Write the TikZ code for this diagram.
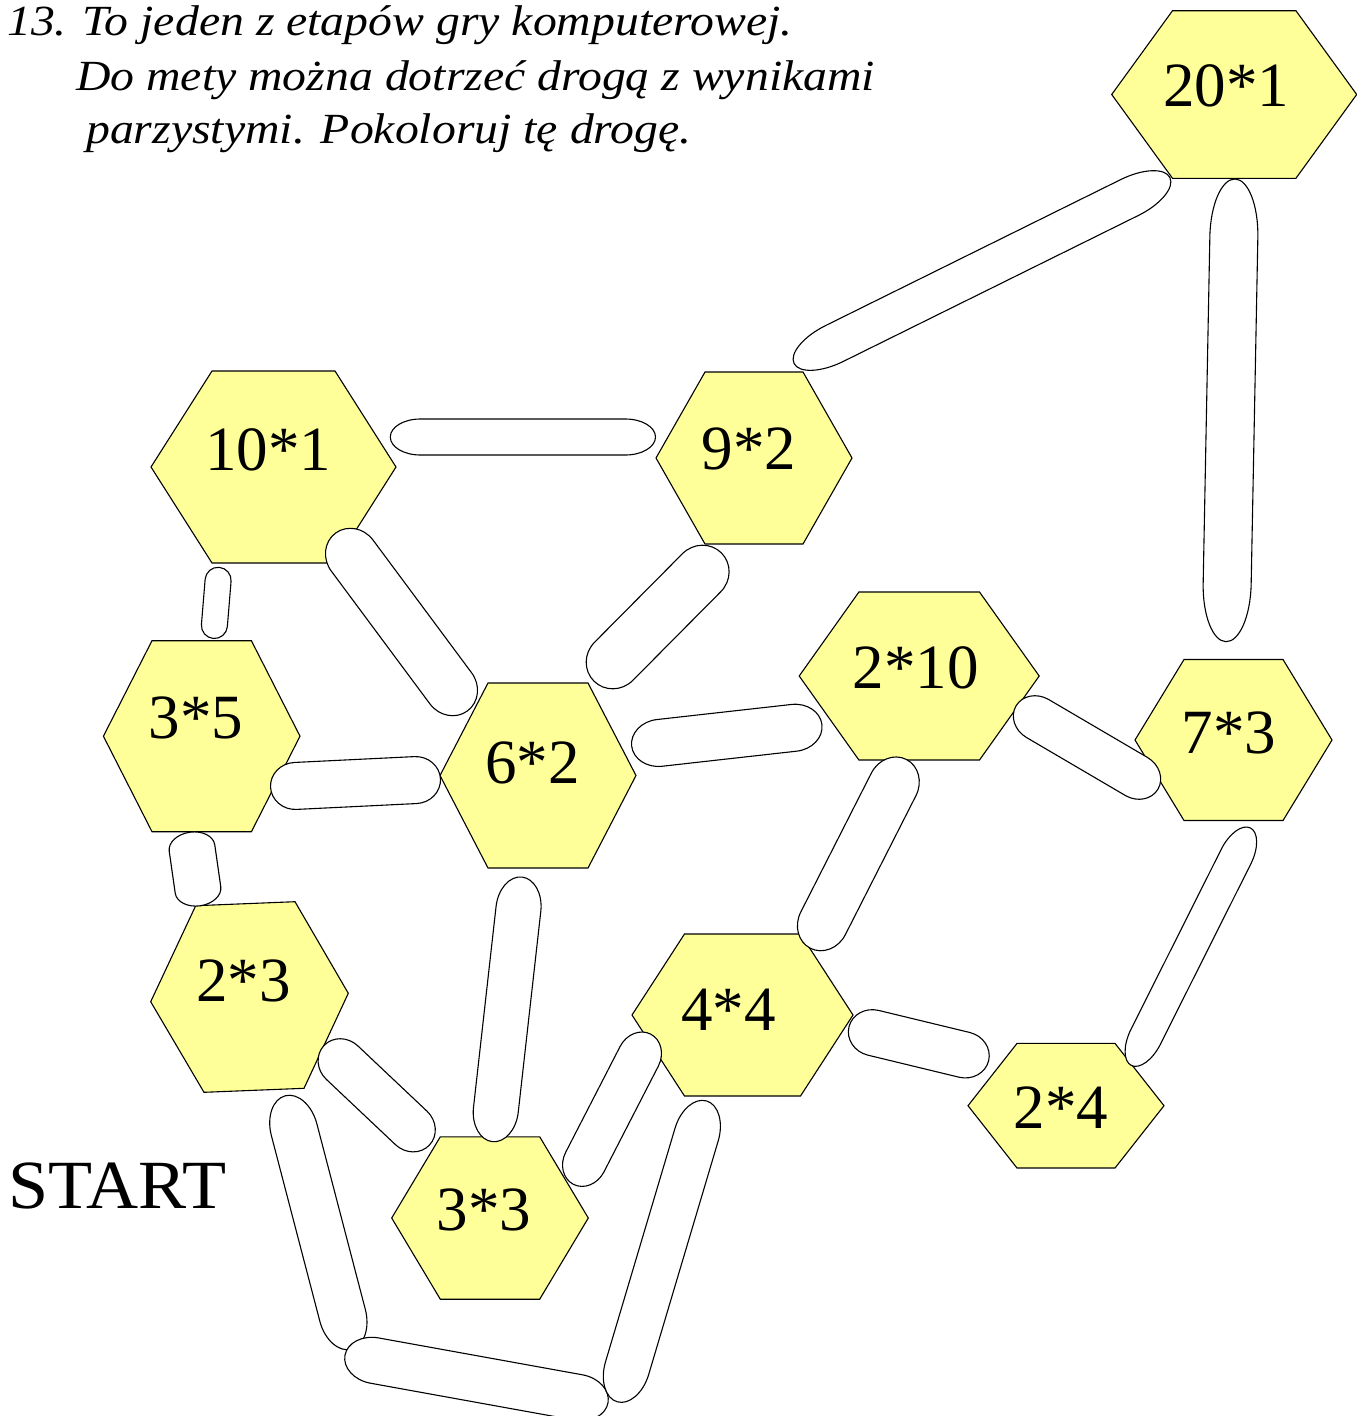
\documentclass[tikz,border=0pt]{standalone}
\usepackage{fontspec}
\usetikzlibrary{calc}
\setmainfont{Liberation Serif}
\newfontfamily\titlefont[FakeStretch=1.11]{Liberation Serif}
\newfontfamily\startfont[FakeStretch=1.045]{Liberation Serif}
\definecolor{hexyellow}{HTML}{FFFF99}
\tikzset{
  hexa/.style={fill=hexyellow, draw=black, line width=1.1pt, line join=miter},
  lbl/.style={font=\fontsize{63}{63}\selectfont, anchor=base, inner sep=0pt},
  ttl/.style={font=\titlefont\itshape\fontsize{43}{43}\selectfont, anchor=base west, inner sep=0pt},
  capst/.style={fill=white, draw=black, line width=1.1pt},
}
% hexagon: name, cx, cy, a (half width), b (half top edge), h (half height)
\newcommand\hexa[6]{%
  \path[hexa] ({#2-#4},#3) -- ({#2-#5},{#3-#6}) -- ({#2+#5},{#3-#6}) --
    ({#2+#4},#3) -- ({#2+#5},{#3+#6}) -- ({#2-#5},{#3+#6}) -- cycle;}
% capsule between two named coordinates (end centres), width #3, end length #4
\newcommand\capsule[4]{%
  \path let \p1=(#1), \p2=(#2) in \pgfextra{%
    \pgfmathsetmacro\capang{atan2(\y2-\y1,\x2-\x1)}%
    \pgfmathsetmacro\caplen{veclen(\x2-\x1,\y2-\y1)}%
    \xdef\capA{\capang}\xdef\capL{\caplen}};
  \def\capw{#3}\def\cape{#4}%
  \begin{scope}[shift={(#1)}, rotate=\capA]
    \path[capst] ({-\capw/2+\cape},{\capw/2}) -- ({\capL+\capw/2-\cape},{\capw/2})
      arc[start angle=90, end angle=-90, x radius=\cape, y radius=\capw/2]
      -- ({-\capw/2+\cape},{-\capw/2})
      arc[start angle=270, end angle=90, x radius=\cape, y radius=\capw/2] -- cycle;
  \end{scope}}
\begin{document}
\begin{tikzpicture}[x=1pt,y=-1pt]
\useasboundingbox (0,0) rectangle (1357,1416);
% title
\node[ttl] (t1) at (7,35) {13. To jeden z etapów gry komputerowej.};
\node[ttl] (t2) at (76,90) {Do mety można dotrzeć drogą z wynikami};
\node[ttl] (t3) at (86,143) {parzystymi. Pokoloruj tę drogę.};
\node[anchor=base west, inner sep=0pt, font=\startfont\fontsize{69}{69}\selectfont] (start) at (8,1208.3) {START};
% hexagons
\hexa{h201}{1234.2}{94.5}{122.5}{61.7}{83.8}
\hexa{h101}{273.5}{467}{122.5}{61.5}{96}
\hexa{h92}{754}{458}{98}{49}{86}
\hexa{h35}{201.7}{736.2}{98.3}{49.7}{95.5}
\hexa{h62}{538}{775.5}{98}{50}{92.5}
\hexa{h210}{919.2}{676}{120}{60.3}{84}
\hexa{h73}{1233.5}{740}{98.5}{49.5}{80.5}
\path[hexa] (150.7,1001.7) -- (195.7,905.7) -- (295,901.7) -- (348.3,993.3) -- (304,1088.3) -- (204,1092.3) -- cycle;
\hexa{h44}{742.5}{1015}{110.5}{58}{81}
\hexa{h24}{1066}{1105.7}{98}{49}{62.3}
\hexa{h33}{490}{1218}{98.3}{49.7}{81.2}
% labels
\node[lbl] (n201) at (1226,106.7) {20*1};
\node[lbl] (n101) at (268.3,470) {10*1};
\node[lbl] (n92) at (749,469) {9*2};
\node[lbl] (n35) at (195.8,738.3) {3*5};
\node[lbl] (n62) at (532.5,783) {6*2};
\node[lbl] (n210) at (915.8,688.3) {2*10};
\node[lbl] (n73) at (1229,753.3) {7*3};
\node[lbl] (n23) at (243.3,1001.7) {2*3};
\node[lbl] (n44) at (728.5,1030) {4*4};
\node[lbl] (n24) at (1061,1128) {2*4};
\node[lbl] (n33) at (484,1230.7) {3*3};
% capsule end points
\coordinate (a1) at (812,354.6);   \coordinate (a2) at (1152,186.4);
\coordinate (b1) at (1234.5,203);  \coordinate (b2) at (1226.5,617.7);
\coordinate (c1) at (408.3,437);   \coordinate (c2) at (637.5,437);
\coordinate (d1) at (218.1,580.3); \coordinate (d2) at (214.4,625.5);
\coordinate (e1) at (351,554);     \coordinate (e2) at (452,690);
\coordinate (f1) at (702.3,572);   \coordinate (f2) at (612.7,662.3);
\coordinate (g1) at (294,786);     \coordinate (g2) at (417,780);
\coordinate (hh1) at (655,743.4);  \coordinate (hh2) at (798.6,727.3);
\coordinate (i1) at (1035,717);    \coordinate (i2) at (1139,778);
\coordinate (j1) at (193,855);     \coordinate (j2) at (197,883);
\coordinate (k1) at (519.5,899.4); \coordinate (k2) at (494.8,1119.3);
\coordinate (l1) at (895,781.7);   \coordinate (l2) at (821.7,926);
\coordinate (m1) at (1243,842.7);  \coordinate (m2) at (1138.7,1050.7);
\coordinate (nn1) at (871.3,1032.3); \coordinate (nn2) at (966.3,1055.3);
\coordinate (o1) at (340.7,1061.3); \coordinate (o2) at (412.7,1129.3);
\coordinate (p1) at (640.8,1053.2); \coordinate (p2) at (583.2,1165.2);
\coordinate (q1) at (291.2,1118.5); \coordinate (q2) at (345.5,1326.5);
\coordinate (r1) at (367.6,1359.3); \coordinate (r2) at (585.4,1398.7);
\coordinate (s1) at (700.2,1122.5); \coordinate (s2) at (623.5,1380.2);
% capsules
\capsule{a1}{a2}{40}{45}
\capsule{b1}{b2}{48}{58}
\capsule{c1}{c2}{36}{30}
\capsule{d1}{d2}{26}{13}
\capsule{e1}{e2}{52}{28}
\capsule{f1}{f2}{54}{28}
\capsule{g1}{g2}{47}{25}
\capsule{hh1}{hh2}{47}{28}
\capsule{i1}{i2}{44}{25}
\capsule{j1}{j2}{46}{16}
\capsule{k1}{k2}{45}{32}
\capsule{l1}{l2}{50}{28}
\capsule{m1}{m2}{33}{32}
\capsule{nn1}{nn2}{46}{25}
\capsule{o1}{o2}{46}{25}
\capsule{p1}{p2}{43}{25}
\capsule{q1}{q2}{47}{35}
\capsule{r1}{r2}{46}{30}
\capsule{s1}{s2}{45}{35}
\end{tikzpicture}
\end{document}
